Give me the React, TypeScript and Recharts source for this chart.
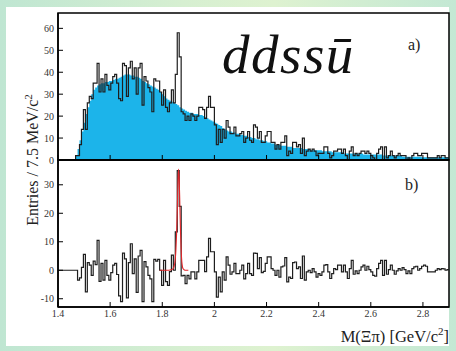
import { Area, ComposedChart, Line, ReferenceArea, XAxis, YAxis } from 'recharts'

// 7.5 MeV bins from 1.4 to 2.9 GeV
const BIN_START = 1.4
const BIN_WIDTH = 0.0075
const MASS_END = 2.9

// entries per bin (black histogram, panel a)
const counts = [
  0, 0, 0, 0, 0, 0, 0, 0, 0, 2,
  2, 7, 14, 23, 14, 26, 29, 28, 35, 35,
  44, 31, 37, 31, 39, 34, 32, 35, 38, 39,
  35, 28, 27, 44, 43, 29, 42, 45, 37, 42,
  30, 42, 44, 25, 38, 36, 33, 31, 22, 37,
  36, 36, 31, 25, 32, 24, 22, 26, 32, 26,
  39, 58, 47, 22, 21, 18, 20, 18, 21, 20,
  18, 20, 24, 24, 23, 19, 24, 29, 24, 24,
  16, 7, 14, 8, 14, 10, 18, 15, 12, 12,
  15, 11, 11, 12, 13, 8, 10, 13, 9, 8,
  16, 15, 10, 13, 8, 8, 11, 13, 13, 8,
  8, 5, 7, 5, 8, 8, 11, 2, 4, 3,
  8, 8, 6, 7, 3, 10, 2, 4, 5, 4,
  5, 4, 2, 3, 3, 3, 6, 6, 3, 1,
  2, 4, 4, 5, 5, 3, 5, 2, 0, 4,
  6, 2, 3, 2, 3, 4, 4, 3, 4, 3,
  2, 1, 0, 3, 5, 6, 0, 6, 1, 2,
  4, 2, 1, 2, 3, 2, 2, 2, 0, 1,
  0, 2, 3, 3, 2, 2, 3, 3, 3, 1,
  1, 1, 1, 1, 2, 1, 2, 2, 1, 1,
]

// background estimate (blue fill, panel a)
const background = [
  0, 0, 0, 0, 0, 0, 0, 0, 0, 2,
  5, 9, 13, 17, 21, 24, 27, 30, 32, 33,
  34, 34.5, 35, 35, 35.5, 35.5, 36, 36, 36.5, 37,
  37, 37.5, 38, 38.5, 39, 39, 39, 38.5, 38.5, 38,
  38, 37.5, 37, 36, 35.5, 35, 34.5, 34, 33.5, 33,
  32.5, 32, 31, 30, 29, 28, 27.5, 27, 26.5, 26,
  25.5, 25, 24, 23.5, 23, 22.5, 22, 21.5, 21.5, 21,
  21, 21, 20.5, 20.5, 20, 19.5, 19, 18.5, 18, 17.5,
  17, 16.5, 16, 15.5, 14.5, 14, 13.5, 13, 13, 12.5,
  12.5, 12, 12, 11.5, 11.5, 11, 11, 10.5, 10.5, 10,
  10, 9.5, 9.5, 9, 9, 8.5, 8.5, 8, 8, 7.5,
  7.5, 7, 7, 7, 6.5, 6.5, 6.5, 6, 6, 6,
  5.5, 5.5, 5.5, 5.5, 5.5, 5, 5, 5, 5, 4.5,
  4.5, 4.5, 4.5, 4.5, 4.5, 4, 4, 4, 4, 4,
  3.5, 3.5, 3.5, 3.5, 3.5, 3.5, 3, 3, 3, 3,
  3, 3, 3, 3, 3, 3, 2.5, 2.5, 2.5, 2.5,
  2.5, 2.5, 2.5, 2.5, 2.5, 2.5, 2, 2, 2, 2,
  2, 2, 2, 2, 2, 2, 1.5, 1.5, 1.5, 1.5,
  1.5, 1.5, 1.5, 1.5, 1.5, 1.5, 1.2, 1.2, 1.2, 1.2,
  1.2, 1.2, 1.2, 1.2, 1.2, 1.2, 1.2, 1.2, 1.2, 1.2,
]

// background-subtracted entries (panel b)
const residual = [
  0, 0, 0, 0, 0, 0, 0, 0, 0, 0,
  -3.5, -2.7, 1, 5.6, -7.6, 2.7, 1.8, -1.8, 3.2, 2,
  10.5, -3.9, 2.4, -3.5, 3.5, -1.8, -3.5, -0.8, 1.8, 2.4,
  -1.5, -9, -11, 6, 4, -9.7, 2.7, 9.3, -1.2, 4,
  -7.8, 5, 7, -11, 3, 1.2, -1.8, -3, -11, 3.8,
  3.2, 3.8, 0, -5.3, 3.5, -4, -5.3, -0.5, 5.3, 0,
  13.5, 35, 22.4, -2, -1.8, -4.7, -1.8, -3, -0.6, -0.6,
  -3, -0.6, 3.5, 3.5, 3.5, -0.5, 4.7, 11.2, 6.5, 6.5,
  -0.6, -9.4, -2.4, -7.6, -0.6, -3.5, 4.7, 1.8, -1.4, -0.6,
  2.4, -1.2, -1.2, 0, 1.8, -3, -1.2, 2.4, -1.2, -1.8,
  6, 5.9, 0.6, 4.4, -0.8, -0.4, 2.4, 4.7, 4.7, 0.6,
  0, -1.8, 0, -2.4, 1.2, 1.5, 4.4, -4.1, -2.4, -2.9,
  2.7, 2.9, 0.6, 1.2, -2.9, 5, -3.5, -0.6, 0, -0.8,
  0.6, -0.6, -2.4, -1.2, -1.8, -0.6, 1.8, 2, -0.6, -2.9,
  -1.2, 0.6, 0.2, 1.8, 1.8, -0.6, 1.8, -0.6, -2.9, 0.6,
  3.5, -1.4, -0.2, -1.2, 0, 1.2, 1.8, 0, 1.4, 0.2,
  -0.6, -1.8, -2.1, 0.6, 2.4, 3.5, -1.8, 3.5, -1.4, 0.2,
  1.8, 0, -1.4, -0.2, 0.6, 0, 0.9, 0.2, -1.2, -0.2,
  -1.2, 0.6, 1.2, 1.4, 0, 0.6, 1.4, 1.8, 1.4, -0.6,
  -0.6, -0.6, -0.6, 0, 0.6, 0.2, 0.6, 0.5, 0, 0.2,
]

// signal fit (red curve, panel b)
const fitMass = [1.79, 1.8, 1.81, 1.82, 1.83, 1.84, 1.845, 1.85, 1.8525, 1.855, 1.8575, 1.86, 1.8625, 1.865, 1.8675, 1.87, 1.8725, 1.875, 1.8775, 1.88, 1.885, 1.89, 1.9]
const fitValue = [0, 0, 0, 0, 0.1, 0.4, 1.3, 4, 7.5, 13, 21, 30, 35.5, 32, 23, 13.5, 7, 3, 1.2, 0.5, 0.1, 0, 0]

const massTicks = [1.4, 1.6, 1.8, 2, 2.2, 2.4, 2.6, 2.8]
const topTicks = [0, 10, 20, 30, 40, 50, 60]
const bottomTicks = [-10, 0, 10, 20, 30]

const rows = counts.map((c, i) => ({
  mass: BIN_START + BIN_WIDTH * i,
  counts: c,
  bkg: background[i],
  res: residual[i],
}))
// closing edge for the step curves
rows.push({
  mass: MASS_END,
  counts: counts[counts.length - 1],
  bkg: background[background.length - 1],
  res: residual[residual.length - 1],
})

const fitRows = fitMass.map((m, i) => ({ mass: m, fit: fitValue[i] }))

const SERIF = '"Liberation Serif", "DejaVu Serif", serif'
const tickStyle = { fontSize: 10, fontFamily: SERIF, fill: '#333' }
const axisLine = { stroke: '#000', strokeWidth: 1.5 }
const tickLine = { stroke: '#000', strokeWidth: 1 }

export default function App() {
  return (
    <div
      style={{
        position: 'absolute',
        left: 0,
        top: 0,
        width: 456,
        height: 351,
        overflow: 'hidden',
        background: 'linear-gradient(90deg, #bfe6d2 0%, #d6efd1 40%, #def2d0 60%, #c3e8d4 100%)',
      }}
    >
      <div style={{ position: 'absolute', left: 6, top: 7, width: 443, height: 339, background: '#fff' }} />

      {/* panel a */}
      <div style={{ position: 'absolute', left: 0, top: 0 }}>
        <ComposedChart width={456} height={170} data={rows} margin={{ top: 13, right: 7, bottom: 0, left: 0 }}>
          <XAxis
            dataKey="mass"
            type="number"
            domain={[BIN_START, MASS_END]}
            ticks={massTicks}
            interval={0}
            allowDataOverflow
            height={10}
            tickSize={-5}
            tickFormatter={() => ''}
            axisLine={axisLine}
            tickLine={tickLine}
          />
          <YAxis
            type="number"
            domain={[0, 67]}
            ticks={topTicks}
            interval={0}
            allowDataOverflow
            width={58}
            tickSize={-5}
            tickMargin={9}
            tick={tickStyle}
            axisLine={axisLine}
            tickLine={tickLine}
          />
          <Area
            dataKey="bkg"
            type="stepAfter"
            fill="#1cb4ea"
            fillOpacity={1}
            stroke="none"
            isAnimationActive={false}
          />
          <Line
            dataKey="counts"
            type="stepAfter"
            stroke="#1e1e1e"
            strokeWidth={1.2}
            dot={false}
            isAnimationActive={false}
          />
          <ReferenceArea x1={BIN_START} x2={MASS_END} y1={0} y2={67} fill="none" stroke="#000" strokeWidth={1.5} />
        </ComposedChart>
      </div>

      {/* panel b */}
      <div style={{ position: 'absolute', left: 0, top: 150 }}>
        <ComposedChart width={456} height={201} data={rows} margin={{ top: 10, right: 7, bottom: 0, left: 0 }}>
          <XAxis
            dataKey="mass"
            type="number"
            domain={[BIN_START, MASS_END]}
            ticks={massTicks}
            interval={0}
            allowDataOverflow
            height={44}
            tickSize={-5}
            tickMargin={8}
            tick={tickStyle}
            axisLine={axisLine}
            tickLine={tickLine}
          />
          <YAxis
            type="number"
            domain={[-12.9, 38.7]}
            ticks={bottomTicks}
            interval={0}
            allowDataOverflow
            width={58}
            tickSize={-5}
            tickMargin={9}
            tick={tickStyle}
            axisLine={axisLine}
            tickLine={tickLine}
          />
          <Line
            dataKey="res"
            type="stepAfter"
            stroke="#1e1e1e"
            strokeWidth={1.2}
            dot={false}
            isAnimationActive={false}
          />
          <Line
            data={fitRows}
            dataKey="fit"
            type="monotone"
            stroke="#e3262a"
            strokeWidth={1.1}
            dot={false}
            isAnimationActive={false}
          />
          <ReferenceArea x1={BIN_START} x2={MASS_END} y1={-12.9} y2={38.7} fill="none" stroke="#000" strokeWidth={1.5} />
        </ComposedChart>
      </div>

      {/* labels */}
      <svg
        width={456}
        height={351}
        style={{ position: 'absolute', left: 0, top: 0, pointerEvents: 'none' }}
        fontFamily={SERIF}
      >
        <text transform="translate(38,160) rotate(-90)" textAnchor="middle" fontSize={16} fill="#222">
          Entries / 7.5 MeV/c<tspan dy={-6} fontSize={11}>2</tspan>
        </text>
        <text x={449} y={342} textAnchor="end" fontSize={16.5} fill="#222">
          M(Ξπ) [GeV/c<tspan dy={-7} fontSize={11}>2</tspan>
          <tspan dy={7}>]</tspan>
        </text>
        <text x={222} y={73} fontSize={55} fontStyle="italic" fill="#111" letterSpacing={1.5}>
          ddssū
        </text>
        <text x={408} y={50} fontSize={16} fill="#222">a)</text>
        <text x={405} y={190} fontSize={16} fill="#222">b)</text>
      </svg>
    </div>
  )
}
